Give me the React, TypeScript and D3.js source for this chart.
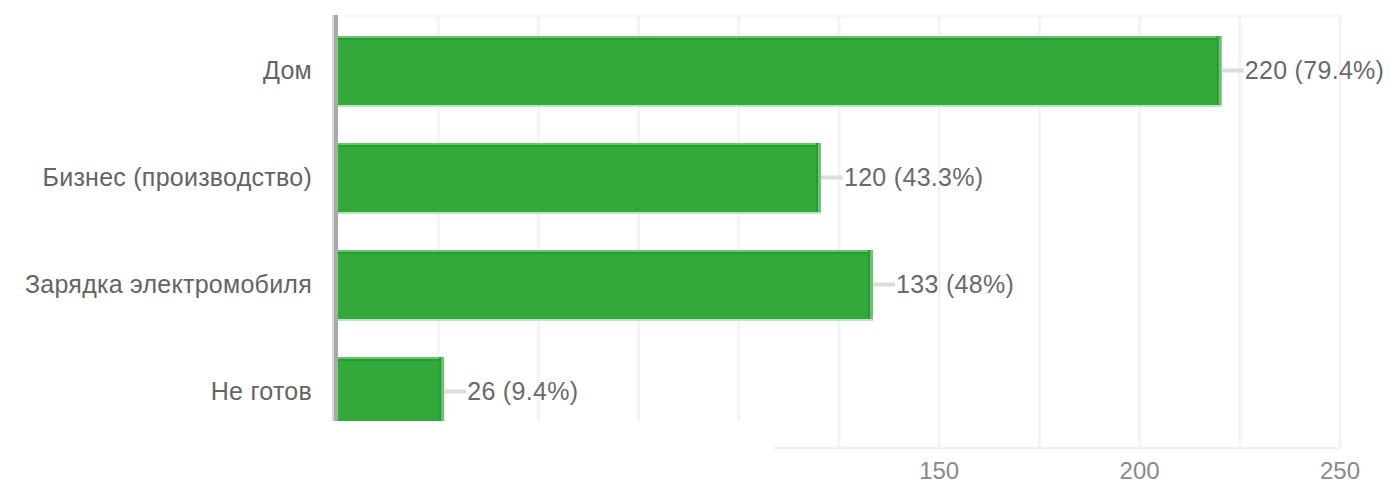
import React from "react";
import * as d3 from "d3";

const categories = ["Дом", "Бизнес (производство)", "Зарядка электромобиля", "Не готов"];
const counts = [220, 120, 133, 26];
const percents = ["79.4%", "43.3%", "48%", "9.4%"];
const tickValues = [150, 200, 250];
const gridValues = [25, 50, 75, 100, 125, 150, 175, 200, 225, 250];

const W = 1391;
const H = 486;

export default function App() {
  const x = d3.scaleLinear().domain([0, 250]).range([338, 1340]);
  const y = d3
    .scaleBand<string>()
    .domain(categories)
    .range([16, 446])
    .paddingInner(0.355)
    .paddingOuter(0.187);
  const font = "'Liberation Sans', Arial, sans-serif";
  const bw = y.bandwidth();
  return (
    <svg
      width={W}
      height={H}
      style={{ position: "absolute", left: 0, top: 0, background: "#fff" }}
    >
      <rect x={0} y={0} width={W} height={H} fill="#fff" />
      {/* top faint line */}
      <line x1={345} x2={1340} y1={16} y2={16} stroke="#f6f6f6" strokeWidth={3} />
      {/* gridlines */}
      {gridValues.map((v) => (
        <line
          key={v}
          x1={x(v)}
          x2={x(v)}
          y1={16}
          y2={448}
          stroke="#f3f3f3"
          strokeWidth={3}
        />
      ))}
      {/* bottom baseline */}
      <line x1={335} x2={1341} y1={448} y2={448} stroke="#f3f3f3" strokeWidth={3} />
      {/* bars */}
      {categories.map((c, i) => {
        const y0 = y(c)!;
        const x0 = x(0);
        const x1 = x(counts[i]);
        const cy = y0 + bw / 2;
        return (
          <g key={c}>
            <rect x={x0} y={y0} width={x1 - x0} height={bw} fill="#33a93b" />
            <rect x={x0} y={y0} width={x1 - x0} height={2} fill="#6cc274" />
            <rect x={x0} y={y0 + 2} width={x1 - x0} height={2} fill="#22a02d" />
            <rect x={x0} y={y0 + bw} width={x1 - x0 + 2} height={2} fill="#bfe3c1" />
            <rect x={x1 - 3} y={y0} width={2} height={bw} fill="#22a02d" />
            <rect x={x1 - 1} y={y0} width={3} height={bw} fill="#6cc274" />
            <line
              x1={x1 + 2}
              x2={x1 + 24}
              y1={cy}
              y2={cy}
              stroke="#dcdcdc"
              strokeWidth={4}
            />
            <text
              x={x1 + 25}
              y={cy}
              dy="0.35em"
              fontFamily={font}
              fontSize={25}
              letterSpacing={0.3}
              fill="#6a6a6a"
            >
              {`${counts[i]} (${percents[i]})`}
            </text>
            <text
              x={312}
              y={cy}
              dy="0.35em"
              textAnchor="end"
              fontFamily={font}
              fontSize={25}
              letterSpacing={0.25}
              fill="#646464"
            >
              {c}
            </text>
          </g>
        );
      })}
      {/* vertical axis */}
      <rect x={332} y={15} width={2} height={406} fill="#dcd8dc" />
      <rect x={334} y={15} width={4} height={406} fill="#a9a9a9" />
      {/* overlay covering lower-left */}
      <rect x={0} y={421} width={773} height={H - 421} fill="#fff" />
      {/* ticks */}
      {tickValues.map((t) => (
        <text
          key={t}
          x={x(t)}
          y={471}
          dy="0.35em"
          textAnchor="middle"
          fontFamily={font}
          fontSize={24}
          fill="#8a8a8a"
        >
          {t}
        </text>
      ))}
    </svg>
  );
}
